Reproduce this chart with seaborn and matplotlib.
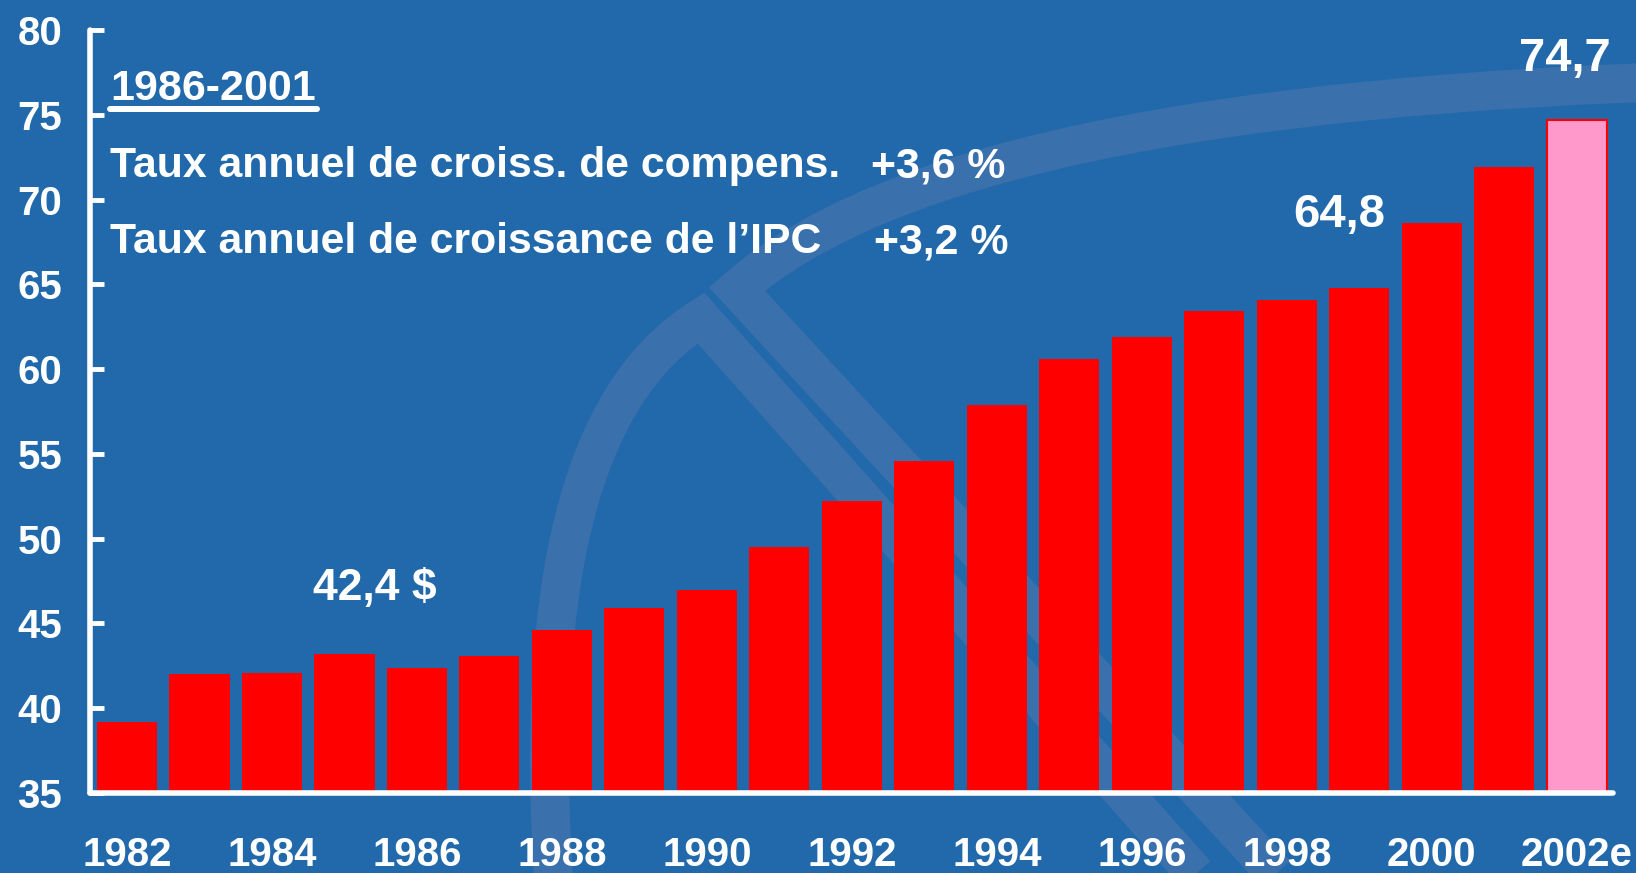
import pandas as pd
import seaborn as sns
import matplotlib.pyplot as plt
from matplotlib.path import Path
from matplotlib.patches import PathPatch
from matplotlib.lines import Line2D

# données
annees = ['1982', '1983', '1984', '1985', '1986', '1987', '1988', '1989', '1990', '1991',
          '1992', '1993', '1994', '1995', '1996', '1997', '1998', '1999', '2000', '2001', '2002e']
valeurs = [39.2, 42.0, 42.1, 43.2, 42.4, 43.1, 44.6, 45.9, 47.0, 49.5,
           52.2, 54.6, 57.9, 60.6, 61.9, 63.4, 64.1, 64.8, 68.6, 71.9, 74.7]
couleurs = ['#FF0000'] * 20 + ['#FF99CC']
etiquettes_x = [a if i % 2 == 0 else '' for i, a in enumerate(annees)]
ticks_y = [35, 40, 45, 50, 55, 60, 65, 70, 75, 80]

fond = '#2169AA'
bande = '#3A70AC'

sns.set_style('white')
plt.rcParams['font.family'] = ['Liberation Sans', 'DejaVu Sans']
plt.rcParams['font.weight'] = 'bold'

W, H = 1636, 873
fig = plt.figure(figsize=(W / 100, H / 100), dpi=100)
fig.patch.set_facecolor(fond)

# filigrane du logo en arrière-plan (coordonnées pixels)
bg = fig.add_axes([0, 0, 1, 1], zorder=0)
bg.set_xlim(0, W)
bg.set_ylim(H, 0)
bg.axis('off')
forme_a = Path([(555, 900), (520, 430), (701, 318), (1250, 935)],
               [Path.MOVETO, Path.CURVE3, Path.CURVE3, Path.LINETO])
forme_b = Path([(1720, 80), (950, 100), (737, 289), (1300, 900)],
               [Path.MOVETO, Path.CURVE3, Path.CURVE3, Path.LINETO])
for p in (forme_a, forme_b):
    bg.add_patch(PathPatch(p, fill=False, edgecolor=bande, lw=28, capstyle='butt', joinstyle='miter'))

ax = fig.add_axes([90 / W, 1 - 793 / H, (1613 - 90) / W, (793 - 30) / H], zorder=1)
ax.set_facecolor('none')

df = pd.DataFrame({'annee': annees, 'valeur': valeurs})
sns.barplot(data=df, x='annee', y='valeur', hue='annee', palette=couleurs,
            legend=False, width=0.83, saturation=1, linewidth=0, ax=ax)
ax.patches[-1].set_edgecolor('#FF0000')
ax.patches[-1].set_linewidth(1.5)

ax.set_ylim(35, 80)
ax.set_xlim(-0.51, 20.5)
ax.set_yticks(ticks_y)
ax.set_xticks(range(len(annees)))
ax.set_xticklabels(etiquettes_x)
ax.set_xlabel('')
ax.set_ylabel('')

for s in ['top', 'right']:
    ax.spines[s].set_visible(False)
for s in ['left', 'bottom']:
    ax.spines[s].set_color('white')
    ax.spines[s].set_linewidth(4)
    ax.spines[s].set_capstyle('round')
ax.tick_params(axis='y', left=True, direction='in', length=10, width=3.5, color='white',
               labelcolor='white', labelsize=29, pad=20)
ax.tick_params(axis='x', bottom=False, length=0, labelcolor='white', labelsize=29, pad=31)
for lab in ax.get_xticklabels() + ax.get_yticklabels():
    lab.set_fontweight('bold')
for t in ax.yaxis.get_major_ticks():
    t.tick1line.set_solid_capstyle('round')

# valeurs mises en évidence
ax.text(3.42, 46.4, '42,4 $', color='white', fontsize=32, fontweight='bold',
        ha='center', va='baseline')
ax.text(16.73, 68.4, '64,8', color='white', fontsize=34, fontweight='bold',
        ha='center', va='baseline')
ax.text(19.83, 77.6, '74,7', color='white', fontsize=34, fontweight='bold',
        ha='center', va='baseline')

# encadré texte
def fx(px):
    return px / W

def fy(py):
    return 1 - py / H

fig.text(fx(110), fy(100), '1986-2001', color='white', fontsize=31, fontweight='bold', va='baseline')
fig.add_artist(Line2D([fx(110), fx(317)], [fy(109), fy(109)], color='white', lw=4.3,
                      transform=fig.transFigure))
fig.text(fx(110), fy(177), 'Taux annuel de croiss. de compens.', color='white', fontsize=30.8,
         fontweight='bold', va='baseline')
fig.text(fx(871), fy(177), '+3,6 %', color='white', fontsize=30.8, fontweight='bold', va='baseline')
fig.text(fx(110), fy(253), 'Taux annuel de croissance de l\u2019IPC', color='white', fontsize=30.8,
         fontweight='bold', va='baseline')
fig.text(fx(874), fy(253), '+3,2 %', color='white', fontsize=30.8, fontweight='bold', va='baseline')

fig.savefig('out.png', dpi=100, facecolor=fond)
